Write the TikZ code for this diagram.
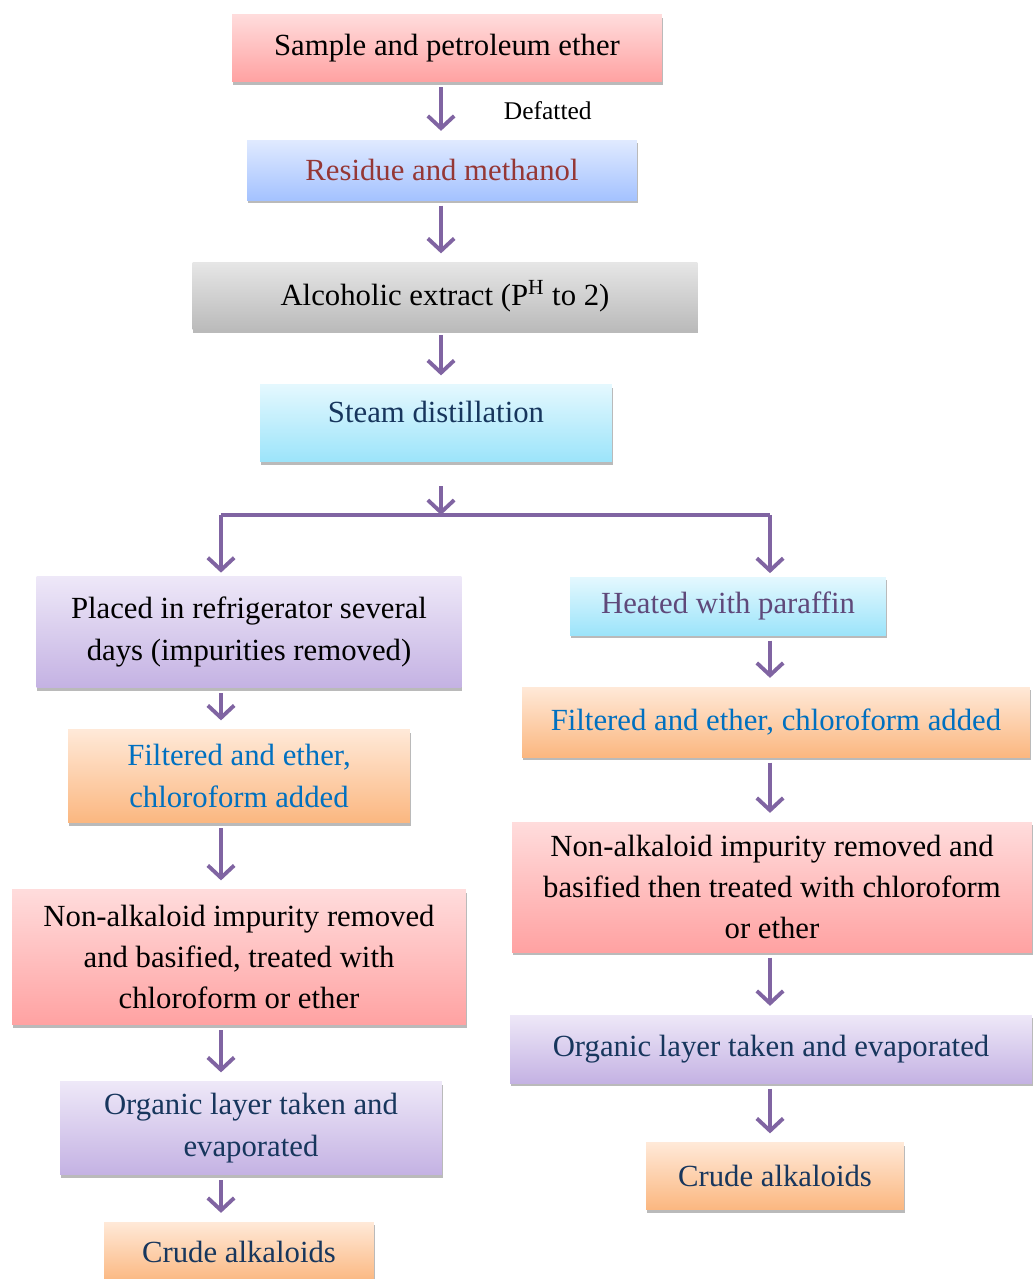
\documentclass[tikz,border=0pt]{standalone}
\usepackage{fontspec}
\setmainfont{Liberation Serif}
\usetikzlibrary{arrows.meta,shadows,positioning}

\definecolor{flowpurple}{HTML}{8064A2}
\definecolor{pinkT}{HTML}{FFDCDC}
\definecolor{pinkB}{HTML}{FFA2A2}
\definecolor{blueT}{HTML}{E0EAFF}
\definecolor{blueB}{HTML}{A4C2FF}
\definecolor{grayT}{HTML}{E6E6E6}
\definecolor{grayB}{HTML}{BBBBBB}
\definecolor{cyanT}{HTML}{E4F8FE}
\definecolor{cyanB}{HTML}{9CE4FA}
\definecolor{purpT}{HTML}{EEE8F8}
\definecolor{purpB}{HTML}{C4B2E3}
\definecolor{oranT}{HTML}{FFE9D8}
\definecolor{oranB}{HTML}{FBB780}
\definecolor{residred}{HTML}{953735}
\definecolor{navy}{HTML}{17365D}
\definecolor{heatpurple}{HTML}{5F497A}
\definecolor{fblue}{HTML}{0070C0}

\begin{document}
\begin{tikzpicture}[x=0.02cm, y=-0.02cm,
  box/.style={rectangle, inner sep=0pt, align=center,
    font=\fontsize{17.5}{23.5}\selectfont,
    drop shadow={shadow xshift=0.4pt, shadow yshift=-1.8pt, fill=black!60, opacity=.45}},
  pinkbox/.style={box, top color=pinkT, bottom color=pinkB},
  bluebox/.style={box, top color=blueT, bottom color=blueB},
  graybox/.style={box, top color=grayT, bottom color=grayB},
  cyanbox/.style={box, top color=cyanT, bottom color=cyanB},
  purplebox/.style={box, top color=purpT, bottom color=purpB},
  orangebox/.style={box, top color=oranT, bottom color=oranB},
  flow/.style={-{Straight Barb[length=7pt,width=15pt]}, shorten <=3pt, shorten >=5pt,
    every edge/.append style={draw=flowpurple, line width=2.2pt}},
  bar/.style={draw=flowpurple, line width=2.2pt}]

  \path[use as bounding box, fill=white] (0,0) rectangle (1032,1279);

  % main line
  \node[pinkbox, minimum width=8.6cm, minimum height=1.34cm] (sample) at (447,48) {Sample and petroleum ether};
  \node[bluebox, text=residred, minimum width=7.8cm, minimum height=1.2cm] (residue) at (442,170) {Residue and methanol};
  \node[graybox, minimum width=10.1cm, minimum height=1.34cm] (alcohol) at (445,296) {Alcoholic extract (P\textsuperscript{H} to 2)};
  \node[cyanbox, text=navy, text depth=0.45cm, minimum width=7.04cm, minimum height=1.54cm] (steam) at (436,423) {Steam distillation};

  \coordinate (split) at (441,515);
  \coordinate (splitL) at (221,515);
  \coordinate (splitR) at (770,515);

  % left branch
  \node[purplebox, minimum width=8.5cm, minimum height=2.22cm] (fridge) at (249,632) {Placed in refrigerator several\\days (impurities removed)};
  \node[orangebox, text=fblue, minimum width=6.84cm, minimum height=1.86cm] (filterL) at (239,776) {Filtered and ether,\\chloroform added};
  \node[pinkbox, minimum width=9.08cm, minimum height=2.7cm] (basifyL) at (239,957) {Non-alkaloid impurity removed\\and basified, treated with\\chloroform or ether};
  \node[purplebox, text=navy, minimum width=7.64cm, minimum height=1.86cm] (organicL) at (251,1128) {Organic layer taken and\\evaporated};
  \node[orangebox, text=navy, minimum width=5.4cm, minimum height=1.2cm] (crudeL) at (239,1252) {Crude alkaloids};

  % right branch
  \node[cyanbox, text=heatpurple, minimum width=6.32cm, minimum height=1.16cm] (heat) at (728,606) {Heated with paraffin};
  \node[orangebox, text=fblue, minimum width=10.16cm, minimum height=1.4cm] (filterR) at (776,722) {Filtered and ether, chloroform added};
  \node[pinkbox, minimum width=10.4cm, minimum height=2.6cm] (basifyR) at (772,887) {Non-alkaloid impurity removed and\\basified then treated with chloroform\\or ether};
  \node[purplebox, text=navy, minimum width=10.44cm, minimum height=1.36cm] (organicR) at (771,1049) {Organic layer taken and evaporated};
  \node[orangebox, text=navy, minimum width=5.16cm, minimum height=1.34cm] (crudeR) at (775,1176) {Crude alkaloids};

  \draw[bar] (splitL) -- (splitR);
%  \path[-stealth]
  \path[flow]
  (sample.south -| split) edge node [right=1.22cm, inner sep=0pt, font=\fontsize{14.5}{17}\selectfont] {Defatted} (residue.north -| split)
  (residue.south -| split) edge (alcohol.north -| split)
  (alcohol.south -| split) edge (steam.north -| split)
  (steam.south -| split) edge [shorten <=14pt, shorten >=0pt] (split)
  (splitL) edge [shorten <=0pt, shorten >=2pt] (fridge.north -| splitL)
  (splitR) edge [shorten <=0pt, shorten >=2pt] (heat.north -| splitR)
  (fridge.south -| splitL) edge (filterL.north -| splitL)
  (filterL.south -| splitL) edge (basifyL.north -| splitL)
  (basifyL.south -| splitL) edge (organicL.north -| splitL)
  (organicL.south -| splitL) edge (crudeL.north -| splitL)
  (heat.south -| splitR) edge (filterR.north -| splitR)
  (filterR.south -| splitR) edge (basifyR.north -| splitR)
  (basifyR.south -| splitR) edge (organicR.north -| splitR)
  (organicR.south -| splitR) edge (crudeR.north -| splitR);
\end{tikzpicture}
\end{document}
